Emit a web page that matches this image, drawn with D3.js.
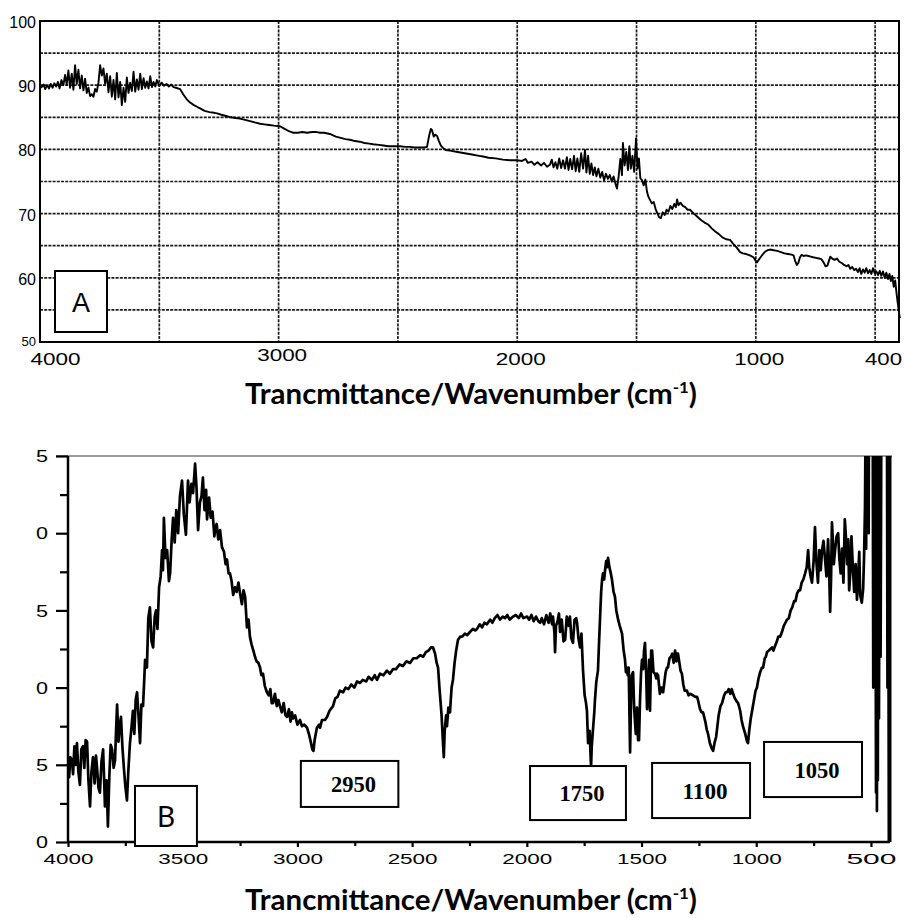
<!DOCTYPE html>
<html>
<head>
<meta charset="utf-8">
<script src="https://cdn.jsdelivr.net/npm/d3@7"></script>
<style>
  body { margin: 0; background: #fff; }
  svg { display: block; }
</style>
</head>
<body>
<svg id="chart" width="904" height="918"></svg>
<script>
// ---------- data, panel A (transmittance %, wavenumber cm-1) ----------
const waveA = [4000,3993,3985,3978,3970,3962,3955,3947,3940,3932,3925,3918,3910,3902,3895,3888,3881,3874,3867,3860,
  3853,3846,3839,3832,3825,3818,3811,3804,3797,3790,3783,3776,3769,3762,3755,3748,3741,3734,3727,3720,
  3713,3706,3699,3692,3685,3678,3671,3664,3657,3650,3643,3636,3629,3622,3615,3608,3601,3594,3587,3580,
  3573,3566,3559,3552,3545,3538,3531,3524,3517,3510,3500,3490,3480,3470,3460,3450,3440,3430,3413,3400,
  3385,3371,3355,3340,3329,3310,3290,3270,3258,3240,3220,3200,3180,3162,3140,3120,3100,3078,3060,3040,
  3020,2994,2975,2960,2940,2920,2900,2880,2860,2840,2826,2810,2785,2760,2740,2720,2701,2680,2660,2640,
  2620,2604,2580,2560,2540,2520,2491,2470,2450,2430,2410,2390,2378,2370,2362,2357,2350,2344,2336,2328,
  2320,2310,2300,2282,2250,2220,2190,2160,2143,2120,2090,2060,2030,2001,1980,1965,1955,1940,1928,1915,
  1900,1888,1875,1863,1855,1848,1840,1832,1824,1816,1808,1800,1792,1785,1778,1770,1762,1755,1748,1740,
  1732,1724,1716,1710,1703,1696,1689,1682,1675,1668,1660,1652,1644,1636,1628,1620,1612,1604,1596,1588,
  1582,1575,1568,1561,1557,1550,1543,1536,1530,1524,1517,1510,1502,1496,1490,1484,1477,1470,1463,1456,
  1450,1443,1436,1428,1420,1412,1405,1398,1390,1382,1374,1366,1358,1350,1342,1335,1330,1324,1316,1306,
  1296,1286,1276,1260,1245,1230,1215,1200,1185,1170,1155,1140,1125,1108,1095,1080,1066,1054,1040,1025,
  1010,1000,995,988,980,970,960,950,940,925,910,895,880,865,850,842,835,828,822,815,
  808,800,790,780,770,760,748,735,725,716,708,700,694,688,680,670,660,650,640,630,
  620,612,604,596,588,580,572,565,558,551,544,537,530,523,516,509,502,495,488,481,
  474,467,460,453,446,440,434,428,422,416,410,405,400,396];
const transA = [89.9,89.7,90.1,89.4,90.0,89.5,90.2,89.6,90.3,89.8,90.5,89.5,90.8,90.0,91.6,90.1,92.3,89.6,91.8,89.3,
  93.1,90.2,92.4,89.5,91.5,89.2,91.0,88.8,89.6,88.3,88.6,88.2,89.4,89.0,90.4,93.1,91.5,92.6,90.2,91.8,
  88.9,91.4,88.2,90.8,87.8,91.9,88.1,90.5,86.9,89.6,87.4,91.2,88.8,90.4,89.1,92.1,89.0,90.9,89.3,91.8,
  89.4,91.1,89.6,90.6,89.5,91.4,89.7,90.5,89.8,90.8,89.9,90.4,89.9,90.2,89.8,90.1,89.7,89.6,89.4,88.6,
  87.8,87.3,86.9,86.6,86.4,86.0,85.8,85.7,85.6,85.4,85.2,85.0,84.9,84.8,84.6,84.4,84.2,84.0,83.9,83.8,
  83.7,83.6,83.2,82.9,82.6,82.6,82.7,82.6,82.7,82.7,82.6,82.6,82.4,82.0,81.8,81.6,81.5,81.3,81.2,81.0,
  80.9,80.8,80.7,80.6,80.5,80.5,80.5,80.4,80.4,80.3,80.3,80.3,80.4,82.0,83.2,83.0,82.0,82.3,82.1,81.3,
  80.6,80.2,79.9,79.8,79.6,79.4,79.2,79.0,78.9,78.7,78.6,78.4,78.3,78.3,78.2,78.5,77.9,78.1,77.6,78.0,
  77.5,77.9,77.3,77.6,78.4,77.2,78.0,77.0,78.6,77.1,78.3,77.0,78.8,76.8,78.5,76.9,79.0,76.6,78.6,76.5,
  79.4,77.0,79.9,76.4,79.0,76.2,77.8,76.0,77.2,75.8,77.0,75.6,76.5,75.2,76.2,75.4,76.0,75.0,75.8,74.6,
  73.9,75.8,78.5,76.0,81.0,77.5,79.6,76.8,80.5,77.0,79.0,76.5,81.7,77.0,78.6,75.5,75.2,74.4,75.3,73.4,
  72.6,72.1,71.6,71.8,70.7,70.0,69.4,69.3,70.2,69.8,70.6,70.3,71.2,70.7,71.5,71.0,72.2,71.3,71.7,71.2,
  71.0,70.6,70.6,70.0,69.5,69.0,68.6,68.3,67.7,67.2,66.8,66.3,66.0,65.9,65.3,64.7,64.0,63.8,63.7,63.5,
  63.2,62.6,62.4,62.8,63.2,63.7,64.1,64.3,64.4,64.3,64.2,64.0,63.8,63.7,63.6,63.5,62.6,62.0,62.3,63.2,
  63.6,63.4,63.5,63.4,63.3,63.2,63.1,63.0,62.9,62.4,61.8,61.9,62.6,63.3,63.0,62.8,63.0,62.5,62.3,62.0,
  61.8,62.0,61.4,61.7,61.2,61.4,60.9,61.5,60.6,61.3,60.8,61.5,60.7,61.2,60.6,61.5,60.7,61.0,60.4,61.1,
  60.3,61.0,60.0,60.8,59.8,60.6,59.5,60.3,58.6,59.6,57.5,56.0,54.5,53.7];

const gridAX = [3500, 3000, 2500, 2000, 1500, 1000, 500];
const gridAY = [95, 90, 85, 80, 75, 70, 65, 60, 55];
const ticksAX = [4000, 3000, 2000, 1000, 400];
const ticksAY = [100, 90, 80, 70, 60, 50];

// ---------- data, panel B ----------
const waveB = [4000,3995,3990,3983,3978,3972,3966,3961,3955,3948,3942,3935,3929,3923,3917,3911,3904,3898,3891,3884,
  3878,3874,3867,3861,3854,3847,3842,3839,3832,3826,3820,3814,3808,3801,3795,3790,3786,3780,3774,3769,
  3763,3756,3750,3743,3737,3730,3724,3717,3711,3705,3699,3693,3686,3680,3673,3668,3664,3656,3650,3643,
  3636,3629,3622,3616,3610,3603,3596,3590,3586,3582,3575,3568,3560,3555,3548,3542,3535,3528,3520,3512,
  3503,3495,3486,3480,3477,3470,3462,3455,3446,3440,3433,3425,3418,3412,3405,3398,3394,3388,3385,3378,
  3370,3362,3359,3352,3345,3337,3329,3320,3313,3307,3300,3294,3287,3280,3272,3265,3257,3250,3242,3235,
  3228,3220,3213,3207,3200,3192,3185,3178,3170,3163,3157,3150,3142,3133,3125,3118,3112,3106,3098,3090,
  3083,3076,3068,3060,3052,3045,3037,3030,3024,3019,3010,3000,2989,2980,2970,2958,2950,2942,2935,2930,
  2925,2915,2905,2901,2893,2880,2871,2860,2845,2835,2825,2815,2801,2790,2778,2765,2752,2740,2727,2715,
  2700,2690,2675,2663,2653,2640,2625,2610,2597,2583,2570,2555,2540,2525,2509,2495,2480,2465,2452,2440,
  2428,2418,2409,2400,2393,2387,2380,2372,2366,2362,2358,2352,2348,2342,2335,2328,2322,2315,2308,2300,
  2290,2282,2270,2260,2248,2235,2225,2217,2205,2195,2185,2174,2160,2150,2140,2128,2117,2105,2095,2085,
  2075,2060,2048,2035,2025,2015,1999,1990,1980,1970,1960,1950,1942,1935,1925,1915,1905,1898,1890,1886,
  1880,1877,1873,1866,1860,1855,1848,1840,1833,1826,1818,1812,1806,1799,1792,1785,1781,1775,1768,1762,
  1755,1748,1742,1738,1733,1726,1722,1720,1717,1711,1706,1703,1697,1690,1685,1680,1676,1672,1668,1663,
  1659,1654,1650,1646,1640,1634,1629,1622,1616,1610,1602,1595,1585,1578,1572,1568,1565,1560,1556,1550,
  1546,1543,1537,1532,1525,1520,1515,1511,1507,1502,1498,1493,1489,1485,1480,1476,1472,1467,1463,1458,
  1454,1448,1441,1436,1433,1428,1420,1413,1406,1400,1395,1389,1385,1378,1372,1366,1360,1354,1348,1345,
  1341,1335,1330,1324,1318,1312,1302,1295,1289,1276,1265,1258,1254,1245,1238,1232,1222,1216,1210,1202,
  1195,1188,1182,1175,1171,1164,1156,1149,1140,1133,1127,1120,1113,1107,1101,1093,1085,1079,1070,1064,
  1058,1048,1040,1036,1030,1024,1018,1010,1003,997,990,983,975,970,963,958,953,945,938,931,
  925,918,910,904,896,888,880,873,866,858,850,843,835,829,822,815,809,802,795,787,
  780,774,769,763,757,750,744,738,731,725,719,713,707,700,694,687,683,678,674,670,
  666,662,657,650,643,638,632,626,620,614,608,604,599,595,590,585,578,573,567,561,
  556,551,547,540,534,530,526,524,521,519,516,513,510,509,492,490,487,484,481,478,
  476,474,472,470,468,465,462,458,455,430,428,425,422,418];
const transB = [4.9,4.2,5.5,5.3,4.4,6.2,5.0,6.4,4.6,3.7,6.0,6.2,4.8,6.6,6.5,4.0,2.3,4.5,5.5,3.8,
  5.6,4.9,3.5,3.2,5.2,6.0,3.8,2.3,4.0,1.0,4.2,6.3,6.0,4.8,5.3,7.4,8.9,6.5,7.6,8.1,
  6.2,4.7,3.6,2.7,4.6,6.4,7.3,8.5,7.0,9.2,9.7,8.3,6.4,8.9,8.8,10.4,11.8,11.3,14.5,15.2,
  13.0,12.6,14.6,15.0,13.8,16.5,17.2,18.9,17.6,21.0,18.4,18.9,16.9,17.4,19.6,21.0,19.4,21.5,20.0,22.4,
  23.4,21.2,19.9,22.2,23.4,22.0,23.2,22.6,24.5,23.0,20.2,22.0,22.4,23.6,21.5,22.8,20.9,21.8,22.3,21.0,
  21.4,19.8,20.2,20.6,19.6,20.2,19.1,18.8,18.0,18.3,17.4,17.4,16.9,16.0,16.5,16.2,16.8,16.1,15.4,16.3,
  15.9,13.9,14.4,13.3,12.8,12.4,12.0,11.7,11.6,11.3,10.8,10.9,10.1,9.7,9.5,9.9,9.0,9.0,9.6,8.8,
  9.2,8.8,8.4,9.0,8.2,8.1,8.6,7.8,8.4,8.0,8.2,7.6,7.9,7.5,7.6,7.4,7.0,6.5,6.0,5.9,
  6.6,7.4,7.6,7.4,7.9,7.9,8.1,8.5,8.8,9.3,9.4,9.8,9.7,10.0,9.9,10.2,10.0,10.4,10.3,10.5,
  10.4,10.7,10.5,10.8,10.5,10.9,10.8,11.1,10.9,11.2,11.2,11.5,11.4,11.7,11.6,11.9,11.9,12.1,12.0,12.3,
  12.4,12.6,12.6,12.2,11.6,11.3,9.8,8.3,6.6,5.5,7.2,8.2,7.5,8.7,8.4,10.0,10.5,11.6,12.4,13.1,
  13.3,13.3,13.5,13.4,13.6,13.8,13.7,13.8,14.1,13.9,14.2,14.1,14.4,14.2,14.5,14.7,14.4,14.6,14.5,14.7,
  14.4,14.6,14.7,14.5,14.8,14.5,14.6,14.4,14.7,14.3,14.6,14.3,14.2,14.5,14.1,14.7,14.2,14.8,14.1,14.6,
  13.6,12.3,14.0,14.3,14.8,13.6,14.4,13.0,13.1,14.6,14.0,14.6,13.2,12.9,14.4,14.5,14.2,13.2,12.6,13.5,
  11.1,9.5,9.0,8.5,6.4,7.2,5.5,4.9,6.2,7.4,8.4,9.2,10.4,11.1,13.0,14.8,16.2,17.0,17.4,17.0,
  17.6,18.2,17.8,18.4,17.8,17.4,17.0,16.2,15.9,15.0,14.4,14.0,13.5,12.4,11.8,11.0,11.3,10.8,11.3,5.8,
  9.0,10.8,11.0,8.6,7.0,8.7,6.6,6.6,9.0,11.0,11.8,11.2,12.4,12.9,11.0,8.6,9.4,11.8,8.5,12.4,
  12.4,11.0,10.9,10.6,10.9,10.8,9.6,10.0,9.7,10.4,11.0,11.3,11.3,11.9,12.0,12.2,11.6,12.4,11.7,12.2,
  12.2,11.6,11.1,10.9,10.2,9.8,9.8,9.5,9.6,9.5,9.4,9.4,9.2,8.6,8.4,8.4,7.8,7.3,7.0,6.4,
  6.1,5.9,6.4,6.8,7.3,8.2,8.8,9.0,9.5,9.7,9.7,9.9,9.6,9.9,9.6,9.3,9.1,9.0,8.5,7.9,
  7.5,7.0,6.5,6.4,7.3,8.0,8.5,9.2,9.8,10.0,10.6,11.0,11.3,11.3,11.9,12.0,12.3,12.4,12.5,12.6,
  12.4,12.7,13.0,13.3,13.3,13.6,14.0,14.2,14.4,14.5,15.0,15.2,15.6,15.6,16.1,16.3,16.3,16.8,17.0,17.4,
  17.8,18.9,17.8,17.2,16.8,18.2,20.4,18.2,16.8,18.9,17.6,18.9,19.5,18.3,17.2,19.6,18.0,14.9,17.0,20.7,
  19.5,18.0,18.8,19.8,20.0,18.4,17.4,19.0,16.8,20.9,19.5,18.0,19.6,16.3,17.5,19.8,17.5,16.2,18.0,15.7,
  17.2,18.8,16.0,15.5,16.4,18.5,21.7,26,19.0,26,22.0,26,20.0,26,26,10.0,26,12.0,26,3.2,
  26,2.0,26,4.0,26,8.0,26,12.0,26,26,10.0,26,0.0,26];

const ticksBX = [4000, 3500, 3000, 2500, 2000, 1500, 1000, 500];
const minorBX = [3750, 3250, 2750, 2250, 1750, 1250, 750];
const ticksBY = [0, 5, 10, 15, 20, 25];
const minorBY = [2.5, 7.5, 12.5, 17.5, 22.5];

// annotation boxes of panel B, in wavenumber / axis units
const peakText = ["2950", "1750", "1100", "1050"];
const peakBoxW = [[2985, 2560], [1986, 1568], [1454, 1027], [966, 539]];
const peakBoxT = [[5.25, 2.27], [4.92, 1.42], [5.12, 1.55], [6.48, 2.91]];

const svg = d3.select("#chart");
const sans = "'Liberation Sans', Arial, sans-serif";

// ================= panel A =================
const xA = d3.scaleLinear().domain([4000, 400]).range([40, 899]);
const yA = d3.scaleLinear().domain([50, 100]).range([342, 21]);
const gA = svg.append("g");

gA.selectAll("line.vg").data(gridAX).join("line")
    .attr("class", "vg")
    .attr("x1", d => xA(d)).attr("x2", d => xA(d))
    .attr("y1", yA(100)).attr("y2", yA(50))
    .attr("stroke", "#1c1c1c").attr("stroke-width", 1.7)
    .attr("stroke-dasharray", "3,1.2");

gA.selectAll("line.hg").data(gridAY).join("line")
    .attr("class", "hg")
    .attr("x1", xA(4000)).attr("x2", xA(400))
    .attr("y1", d => yA(d)).attr("y2", d => yA(d))
    .attr("stroke", "#1c1c1c").attr("stroke-width", 1.7)
    .attr("stroke-dasharray", "3,1.2");

gA.append("rect")
    .attr("x", xA(4000)).attr("y", yA(100))
    .attr("width", xA(400) - xA(4000)).attr("height", yA(50) - yA(100))
    .attr("fill", "none").attr("stroke", "#000").attr("stroke-width", 2);

gA.append("path")
    .datum(d3.zip(waveA, transA))
    .attr("fill", "none").attr("stroke", "#000").attr("stroke-width", 1.9)
    .attr("stroke-linejoin", "round")
    .attr("d", d3.line().x(d => xA(d[0])).y(d => yA(d[1])));

// y labels A
const axA = gA.append("g").attr("transform", `translate(${xA(4000)},0)`)
    .call(d3.axisLeft(yA).tickValues(ticksAY).tickSize(0).tickPadding(4));
axA.select(".domain").remove();
axA.selectAll("text")
    .attr("font-family", sans).attr("fill", "#000")
    .attr("font-size", d => d === 50 ? 13 : 16)
    .attr("dy", d => d === 50 ? "0.3em" : "0.4em");

// x labels A
const axAx = gA.append("g").attr("transform", `translate(0,${yA(50)})`)
    .call(d3.axisBottom(xA).tickValues(ticksAX).tickSize(0).tickPadding(10).tickFormat(d3.format("d")));
axAx.select(".domain").remove();
axAx.selectAll("text")
    .attr("font-family", sans).attr("fill", "#000").attr("font-size", 17)
    .attr("textLength", d => d === 400 ? 37 : 50).attr("lengthAdjust", "spacingAndGlyphs")
    .attr("x", d => d === 4000 ? 15 : d === 400 ? -16 : 3)
    .attr("dy", d => d === 3000 ? "0.55em" : "0.75em");

// "A" box
gA.append("rect").attr("x", 55).attr("y", 271).attr("width", 52).attr("height", 61)
    .attr("fill", "#fff").attr("stroke", "#000").attr("stroke-width", 2);
gA.append("text").attr("x", 81).attr("y", 312).attr("text-anchor", "middle")
    .attr("font-family", sans).attr("font-size", 27).text("A");

// ================= panel B =================
const xB = d3.scaleLinear().domain([4000, 417]).range([68, 890]);
const yB = d3.scaleLinear().domain([0, 25]).range([842, 456]);
const gB = svg.append("g");

gB.append("clipPath").attr("id", "clipB").append("rect")
    .attr("x", xB(4000)).attr("y", yB(25)).attr("width", xB(417) - xB(4000)).attr("height", yB(0) - yB(25));

gB.append("line")
    .attr("x1", 56).attr("x2", xB(417) + 2).attr("y1", yB(25)).attr("y2", yB(25))
    .attr("stroke", "#9a9a9a").attr("stroke-width", 2);

gB.append("path")
    .datum(d3.zip(waveB, transB))
    .attr("clip-path", "url(#clipB)")
    .attr("fill", "none").attr("stroke", "#000").attr("stroke-width", 2.7)
    .attr("stroke-linejoin", "round")
    .attr("d", d3.line().x(d => xB(d[0])).y(d => yB(d[1])));

gB.append("line")
    .attr("x1", xB(417)).attr("x2", xB(417)).attr("y1", yB(25)).attr("y2", yB(0))
    .attr("stroke", "#000").attr("stroke-width", 3);

// axes B
const byMaj = gB.append("g").attr("transform", `translate(${xB(4000)},0)`)
    .call(d3.axisLeft(yB).tickValues(ticksBY).tickSize(12).tickPadding(8).tickFormat(d => String(d % 10)));
const byMin = gB.append("g").attr("transform", `translate(${xB(4000)},0)`)
    .call(d3.axisLeft(yB).tickValues(minorBY).tickSize(8).tickFormat(""));
const bxMaj = gB.append("g").attr("transform", `translate(0,${yB(0)})`)
    .call(d3.axisBottom(xB).tickValues(ticksBX).tickSize(5).tickPadding(6).tickFormat(d3.format("d")));
const bxMin = gB.append("g").attr("transform", `translate(0,${yB(0)})`)
    .call(d3.axisBottom(xB).tickValues(minorBX).tickSize(4).tickFormat(""));

[byMaj, byMin, bxMaj, bxMin].forEach(a => {
  a.select(".domain").attr("stroke", "#000").attr("stroke-width", 2.5);
  a.selectAll(".tick line").attr("stroke", "#000").attr("stroke-width", 2.2);
});
byMin.select(".domain").remove();
bxMin.select(".domain").remove();
byMaj.select(".domain").attr("d", `M0,${yB(25)}V${yB(0)}`);
bxMaj.select(".domain").attr("d", `M${xB(4000)},0H${xB(417)}`);

byMaj.selectAll("text")
    .attr("font-family", sans).attr("font-size", 16).attr("fill", "#000")
    .attr("textLength", 12).attr("lengthAdjust", "spacingAndGlyphs").attr("dy", "0.36em");
bxMaj.selectAll("text")
    .attr("font-family", sans).attr("font-size", 15).attr("fill", "#000")
    .attr("textLength", 50).attr("lengthAdjust", "spacingAndGlyphs");

// "B" box
gB.append("rect")
    .attr("x", xB(3708)).attr("y", yB(3.63))
    .attr("width", xB(3438) - xB(3708)).attr("height", yB(-0.26) - yB(3.63))
    .attr("fill", "#fff").attr("stroke", "#000").attr("stroke-width", 2);
gB.append("text").attr("x", xB(3573)).attr("y", 827).attr("text-anchor", "middle")
    .attr("font-family", "Lato, 'Open Sans', sans-serif").attr("font-size", 28).text("B");

// peak annotation boxes
const peaks = peakText.map((t, i) => ({ t, w: peakBoxW[i], v: peakBoxT[i] }));
const pg = gB.selectAll("g.peak").data(peaks).join("g").attr("class", "peak");
pg.append("rect")
    .attr("x", d => xB(d.w[0])).attr("y", d => yB(d.v[0]))
    .attr("width", d => xB(d.w[1]) - xB(d.w[0])).attr("height", d => yB(d.v[1]) - yB(d.v[0]))
    .attr("fill", "#fff").attr("stroke", "#000").attr("stroke-width", 2);
pg.append("text")
    .attr("x", d => (xB(d.w[0]) + xB(d.w[1])) / 2 + 4)
    .attr("y", d => (yB(d.v[0]) + yB(d.v[1])) / 2 + 8)
    .attr("text-anchor", "middle")
    .attr("font-family", "'Liberation Serif', 'Times New Roman', serif")
    .attr("font-weight", 700).attr("font-size", 23)
    .attr("textLength", 45).attr("lengthAdjust", "spacingAndGlyphs")
    .text(d => d.t);

// ================= axis titles =================
function axisTitle(y) {
  const t = svg.append("text").attr("text-anchor", "middle")
      .attr("font-family", "Lato, 'Open Sans', sans-serif")
      .attr("font-weight", 700).attr("font-size", 28).attr("fill", "#000");
  t.append("tspan").text("Trancmittance/Wavenumber (cm");
  t.append("tspan").attr("font-size", 16).attr("dy", -11).text("-1");
  t.append("tspan").attr("dy", 11).text(")");
  const w = t.node().getComputedTextLength();
  t.attr("transform", `translate(471,${y}) scale(${452 / w},1)`);
}
axisTitle(404);
axisTitle(910);
</script>
</body>
</html>
